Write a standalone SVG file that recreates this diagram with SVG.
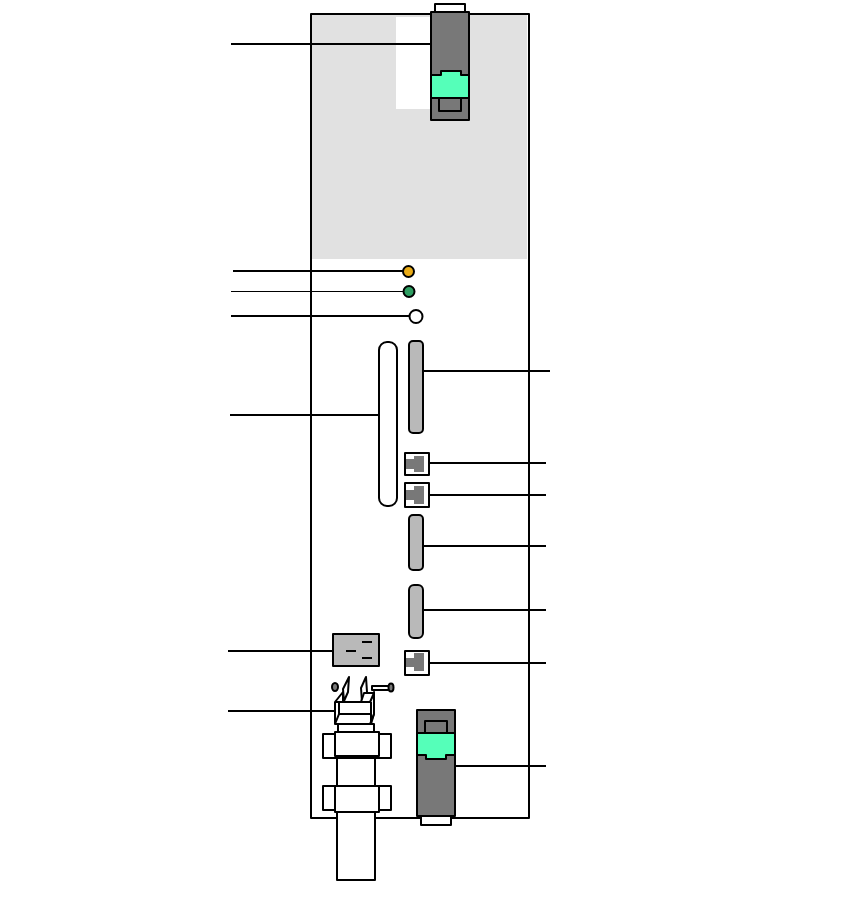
<svg xmlns="http://www.w3.org/2000/svg" width="842" height="911" viewBox="0 0 842 911">
<style>
.s{stroke:#000;stroke-width:2;stroke-linejoin:round}
.w{fill:#fff}.g{fill:#787878}.l{fill:#b9b9b9}.m{fill:#55ffb9}
.n{fill:none}
.c{fill:none;stroke:#000;stroke-width:2}
.t{fill:#787878;stroke:none}
</style>
<g id="panel">
<rect x="311" y="14" width="218" height="804" class="w s"/>
<rect x="312" y="15" width="215" height="244" fill="#e1e1e1"/>
<rect x="396" y="17" width="35" height="92" fill="#fff"/>
</g>
<g id="connectors">
<path class="c" d="M231 44H431"/>
<path class="c" d="M233 271H403"/>
<path d="M231 291.500H403" fill="none" stroke="#000" stroke-width="1"/>
<path class="c" d="M231 316H409"/>
<path class="c" d="M230 415H379"/>
<path class="c" d="M228 651H333"/>
<path class="c" d="M228 711H335"/>
<path class="c" d="M423 371H550"/>
<path class="c" d="M429 463H546"/>
<path class="c" d="M429 495H546"/>
<path class="c" d="M423 546H546"/>
<path class="c" d="M423 610H546"/>
<path class="c" d="M429 663H546"/>
<path class="c" d="M455 766H546"/>
</g>
<g id="top-latch">
<rect x="435" y="4" width="30" height="9" class="w s"/>
<rect x="431" y="12" width="38" height="108" class="g s"/>
<path d="M431 75H441V71H461V75H469V98H431Z" class="m s"/>
<path d="M439 98H461V111H439Z" class="n s"/>
</g>
<g id="led-yellow"><circle cx="408.500" cy="271.500" r="5.500" fill="#e9ab17" class="s"/></g>
<g id="led-green"><circle cx="409" cy="291.500" r="5.500" fill="#2e9e62" class="s"/></g>
<g id="led-white"><circle cx="416" cy="316.500" r="6.500" class="w s"/></g>
<g id="long-slot"><rect x="379" y="342" width="18" height="164" rx="8" class="w s"/></g>
<g id="slot-1"><rect x="409" y="341" width="14" height="92" rx="4" class="l s"/></g>
<g id="port-1"><rect x="405" y="453" width="24" height="22" class="w s"/><path class="t" d="M406 459H414V456H424V472H414V469H406Z"/></g>
<g id="port-2"><rect x="405" y="483" width="24" height="24" class="w s"/><path class="t" d="M406 490H414V486H424V504H414V500H406Z"/></g>
<g id="slot-2"><rect x="409" y="515" width="14" height="55" rx="4" class="l s"/></g>
<g id="slot-3"><rect x="409" y="585" width="14" height="53" rx="5" class="l s"/></g>
<g id="port-3"><rect x="405" y="651" width="24" height="24" class="w s"/><path class="t" d="M406 658H414V653H424V671H414V667H406Z"/></g>
<g id="power-socket">
<rect x="333" y="634" width="46" height="32" class="l s"/>
<path class="c" d="M362 642H372M346 651H356M362 658H372"/>
</g>
<g id="bracket">
<ellipse cx="335" cy="687" rx="3" ry="4" fill="#787878" class="s"/>
<path d="M343 689L349 677L348 692L344 701Z" class="w s" stroke-width="1.500"/>
<path d="M361 688L366 677L367 692L362 702Z" class="w s"/>
<rect x="372" y="686" width="18" height="4" class="w s"/>
<ellipse cx="391" cy="687.500" rx="2.500" ry="4" class="g s"/>
<path d="M335 702L343 692V702H370L374 692V714L370 724H335Z" class="w s"/>
<path d="M361 702L364 693H374L370 702Z" class="w s"/>
<path d="M335 702H343M339 702V714L335 724M339 714H371V724M371 702V714M374 714L371 724" class="c"/>
<rect x="338" y="724" width="36" height="9" class="w s"/>
</g>
<g id="gland">
<rect x="337" y="756" width="38" height="32" class="w s"/>
<rect x="337" y="812" width="38" height="68" class="w s"/>
<rect x="323" y="734" width="68" height="24" class="w s"/>
<rect x="335" y="732" width="44" height="24" class="w s"/>
<rect x="323" y="786" width="68" height="24" class="w s"/>
<rect x="335" y="786" width="44" height="26" class="w s"/>
</g>
<g id="bottom-latch">
<rect x="421" y="816" width="30" height="9" class="w s"/>
<rect x="417" y="710" width="38" height="106" class="g s"/>
<path d="M425 733V721H447V733Z" class="n s"/>
<path d="M417 733H455V755H446V759H426V755H417Z" class="m s"/>
</g>
</svg>
